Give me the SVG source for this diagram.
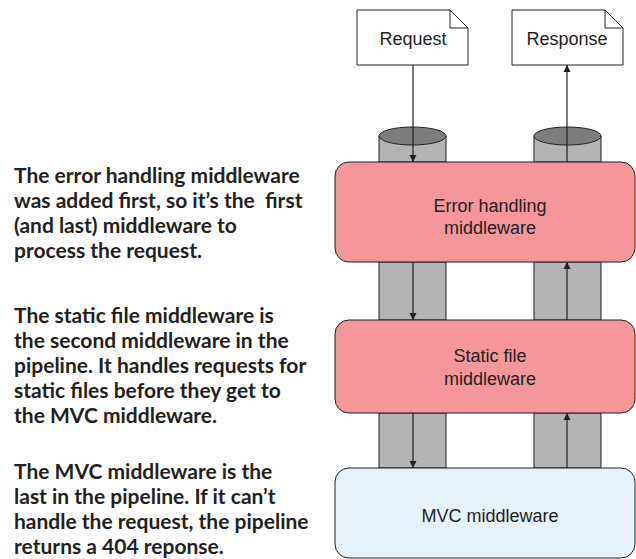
<svg xmlns="http://www.w3.org/2000/svg" width="636" height="559" viewBox="0 0 636 559">
<defs>
<style>
.note{font-family:Lato,"Open Sans",sans-serif;font-weight:bold;font-size:21px;fill:#231f20;white-space:pre}
.lbl{font-family:"Liberation Sans",Arial,sans-serif;font-size:18px;fill:#231f20;text-anchor:middle}
.doc{fill:#fff;stroke:#231f20;stroke-width:1}
.pink{fill:#f4969a;stroke:#231f20;stroke-width:1}
.blue{fill:#e6f2fb;stroke:#231f20;stroke-width:1}
.col{fill:#b3b4b4;stroke:#231f20;stroke-width:1}
.top{fill:#7c7d7d;stroke:#231f20;stroke-width:1}
.arr{stroke:#231f20;stroke-width:1.2;fill:none}
</style>
<marker id="ah" viewBox="0 0 10 10" refX="10" refY="5" markerWidth="7" markerHeight="12" markerUnits="userSpaceOnUse" orient="auto">
<path d="M0,0 L10,5 L0,10 Z" fill="#231f20"/>
</marker>
</defs>
<g id="notes">
<text class="note" x="14" y="183">The error handling middleware</text>
<text class="note" x="14" y="208" xml:space="preserve">was added first, so it’s the  first</text>
<text class="note" x="14" y="233">(and last) middleware to</text>
<text class="note" x="14" y="258">process the request.</text>
<text class="note" x="14" y="323">The static file middleware is</text>
<text class="note" x="14" y="348">the second middleware in the</text>
<text class="note" x="14" y="373">pipeline. It handles requests for</text>
<text class="note" x="14" y="398">static files before they get to</text>
<text class="note" x="14" y="423">the MVC middleware.</text>
<text class="note" x="14" y="479">The MVC middleware is the</text>
<text class="note" x="14" y="504">last in the pipeline. If it can’t</text>
<text class="note" x="14" y="529">handle the request, the pipeline</text>
<text class="note" x="14" y="554">returns a 404 reponse.</text>
</g>
<g id="pipes">
<path class="col" d="M379,136 V162 H446 V136"/>
<ellipse class="top" cx="412.5" cy="136" rx="33.5" ry="9"/>
<path class="col" d="M534,136 V162 H601 V136"/>
<ellipse class="top" cx="567.5" cy="136" rx="33.5" ry="9"/>
<rect class="col" x="379" y="262" width="67" height="58"/>
<rect class="col" x="534" y="262" width="67" height="58"/>
<rect class="col" x="379" y="413" width="67" height="55"/>
<rect class="col" x="534" y="413" width="67" height="55"/>
</g>
<g id="request">
<path class="doc" d="M357,10 H450 L468,28 V65 H357 Z M450,10 V28 H468"/>
<text class="lbl" x="413" y="45">Request</text>
</g>
<g id="response">
<path class="doc" d="M512,10 H605 L623,28 V65 H512 Z M605,10 V28 H623"/>
<text class="lbl" x="567" y="45">Response</text>
</g>
<g id="error">
<rect class="pink" x="335" y="162" width="300" height="100" rx="14"/>
<text class="lbl" x="490" y="212">Error handling</text>
<text class="lbl" x="490" y="234">middleware</text>
</g>
<g id="static">
<rect class="pink" x="335" y="320" width="300" height="93" rx="14"/>
<text class="lbl" x="490" y="362">Static file</text>
<text class="lbl" x="490" y="385">middleware</text>
</g>
<g id="mvc">
<rect class="blue" x="335" y="468" width="300" height="90" rx="14"/>
<text class="lbl" x="490" y="522">MVC middleware</text>
</g>
<g id="connectors">
<line class="arr" x1="413" y1="65" x2="413" y2="162" marker-end="url(#ah)"/>
<line class="arr" x1="567" y1="162" x2="567" y2="65" marker-end="url(#ah)"/>
<line class="arr" x1="413" y1="262" x2="413" y2="320" marker-end="url(#ah)"/>
<line class="arr" x1="567" y1="320" x2="567" y2="262" marker-end="url(#ah)"/>
<line class="arr" x1="413" y1="413" x2="413" y2="468" marker-end="url(#ah)"/>
<line class="arr" x1="567" y1="468" x2="567" y2="413" marker-end="url(#ah)"/>
</g>
</svg>
